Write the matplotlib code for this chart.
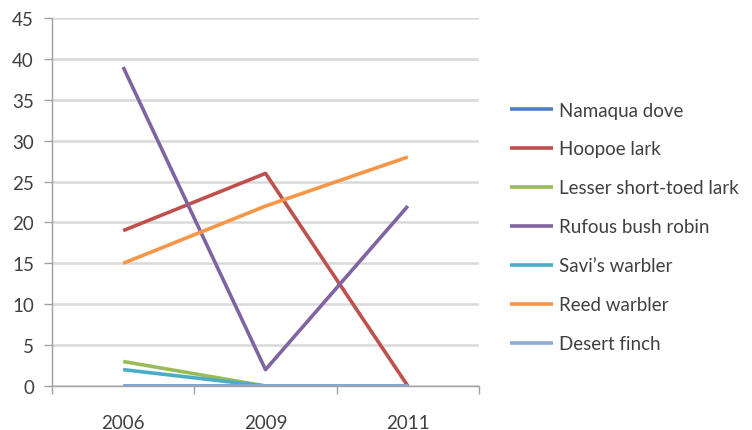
import matplotlib.pyplot as plt
from matplotlib.ticker import FixedLocator

plt.rcParams['font.family'] = ['Lato', 'DejaVu Sans']

years = ['2006', '2009', '2011']
species = ['Namaqua dove', 'Hoopoe lark', 'Lesser short-toed lark',
           'Rufous bush robin', 'Savi\u2019s warbler', 'Reed warbler',
           'Desert finch']
namaqua_dove = [0, 0, 0]
hoopoe_lark = [19, 26, 0]
lesser_short_toed_lark = [3, 0, 0]
rufous_bush_robin = [39, 2, 22]
savis_warbler = [2, 0, 0]
reed_warbler = [15, 22, 28]
desert_finch = [0, 0, 0]

series = [namaqua_dove, hoopoe_lark, lesser_short_toed_lark,
          rufous_bush_robin, savis_warbler, reed_warbler, desert_finch]
colors = ['#4F81BD', '#C0504D', '#9BBB59', '#8064A2', '#4BACC6',
          '#F79646', '#8DA9D8']

fig = plt.figure(figsize=(7.52, 4.31), dpi=100)
ax = fig.add_axes([52 / 752, 44 / 431, 427 / 752, 368 / 431])

x = list(range(len(years)))
for vals, name, c in zip(series, species, colors):
    ax.plot(x, vals, color=c, lw=2.6, label=name, solid_capstyle='butt')

ax.set_xlim(-0.5, 2.5)
ax.set_ylim(0, 45)
ax.set_yticks(range(0, 46, 5))
ax.set_xticks(x)
ax.set_xticklabels(years)
ax.xaxis.set_minor_locator(FixedLocator([-0.5, 0.5, 1.5, 2.5]))
ax.tick_params(axis='x', which='major', length=0, pad=20, labelsize=13.5,
               labelcolor='#404040')
ax.tick_params(axis='x', which='minor', length=6, color='#A0A0A0', width=1)
ax.tick_params(axis='y', length=6, color='#A0A0A0', width=1, pad=7,
               labelsize=13.5, labelcolor='#404040')
ax.grid(axis='y', color='#D9D9D9', lw=1.8)
ax.set_axisbelow(True)
for side in ['top', 'right']:
    ax.spines[side].set_visible(False)
for side in ['left', 'bottom']:
    ax.spines[side].set_color('#A0A0A0')
    ax.spines[side].set_linewidth(1)

leg = fig.legend(loc='upper left', bbox_to_anchor=(502.5 / 752, 1 - 95 / 431),
                 frameon=False, fontsize=13.5, handlelength=2.3,
                 handletextpad=0.32, labelspacing=1.17, borderaxespad=0)
for t in leg.get_texts():
    t.set_color('#404040')

fig.savefig('out.png', dpi=100)
